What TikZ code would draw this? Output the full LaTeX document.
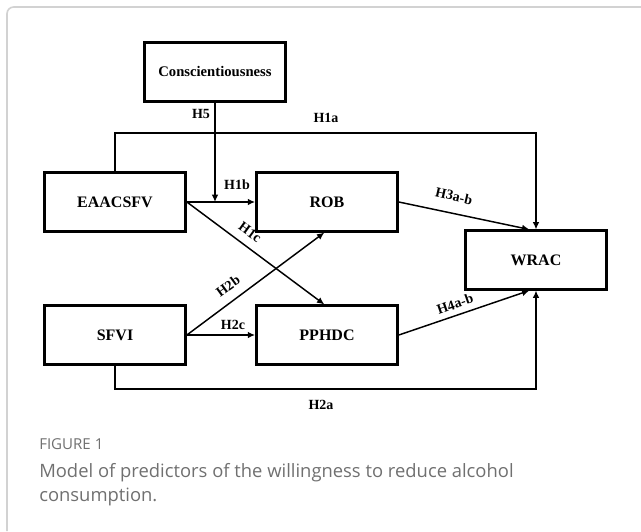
\documentclass[tikz,border=0pt]{standalone}
\usepackage{fontspec}
\setmainfont{Liberation Serif}
\newfontfamily\capfont{Open Sans}
\usetikzlibrary{arrows.meta}
\definecolor{framegray}{HTML}{D2D2D2}
\definecolor{capgray}{HTML}{707070}
\begin{document}
\begin{tikzpicture}[x=0.75pt, y=-0.75pt,
    box/.style={draw, line width=1.8pt, minimum width=106pt, minimum height=44pt,
        inner sep=0pt, font=\fontsize{12}{14}\selectfont\bfseries},
    arr/.style={-{Latex[length=5.5pt, width=5pt]}, line width=1.1pt},
    lbl/.style={inner sep=1pt, font=\fontsize{10.5}{12}\selectfont\bfseries},
    captext/.style={anchor=base west, inner sep=0pt, text=capgray}]
    \useasboundingbox (0,0) rectangle (641,531);
    % Frame
    \draw [framegray, line width=1.2pt, rounded corners=5pt] (641,7) -- (7,7) -- (7,531);
    % Boxes
    \node [box, font=\fontsize{11}{13}\selectfont\bfseries] (cons) at (215,72) {Conscientiousness};
    \node [box] (eaac) at (115,202) {EAACSFV};
    \node [box] (rob) at (327,202) {ROB};
    \node [box] (wrac) at (536,260) {WRAC};
    \node [box] (sfvi) at (115,335) {SFVI};
    \node [box] (pphdc) at (327,335) {PPHDC};
    % Routing lines
    \coordinate (top) at (0,133);
    \coordinate (bot) at (0,389);
    % Arrows
    \draw [arr] (eaac.east) -- (rob.west);
    \draw [arr] (cons.south) -- (cons.south |- eaac.east);
    \draw [arr] (eaac.north) -- (eaac.north |- top) -| (wrac.north);
    \draw [arr] (sfvi.south) -- (sfvi.south |- bot) -| (wrac.south);
    \draw [arr] (eaac.east) -- ([xshift=-2]pphdc.north);
    \draw [arr] (sfvi.east) -- ([xshift=-2]rob.south);
    \draw [arr] (sfvi.east) -- (pphdc.west);
    \draw [arr] (rob.east) -- ([xshift=-5]wrac.north);
    \draw [arr] (pphdc.east) -- ([xshift=-5]wrac.south);
    % Labels
    \node [lbl] (h5) at (201,114) {H5};
    \node [lbl] (h1a) at (326,118) {H1a};
    \node [lbl] (h1b) at (237,185) {H1b};
    \node [lbl, rotate=-36] (h1c) at (250,232) {H1c};
    \node [lbl, rotate=36] (h2b) at (228,286) {H2b};
    \node [lbl] (h2c) at (233,325) {H2c};
    \node [lbl, rotate=-13] (h3) at (454,196) {H3a-b};
    \node [lbl, rotate=19] (h4) at (455,304) {H4a-b};
    \node [lbl] (h2a) at (321,405) {H2a};
    % Caption
    \node [captext, font=\capfont\fontsize{11.3}{13}\selectfont] (fig) at (39,449) {FIGURE 1};
    \node [captext, font=\capfont\fontsize{13.8}{16}\selectfont] (cap1) at (39,477)
        {Model of predictors of the willingness to reduce alcohol};
    \node [captext, font=\capfont\fontsize{13.8}{16}\selectfont] (cap2) at (39,501) {consumption.};
\end{tikzpicture}
\end{document}
